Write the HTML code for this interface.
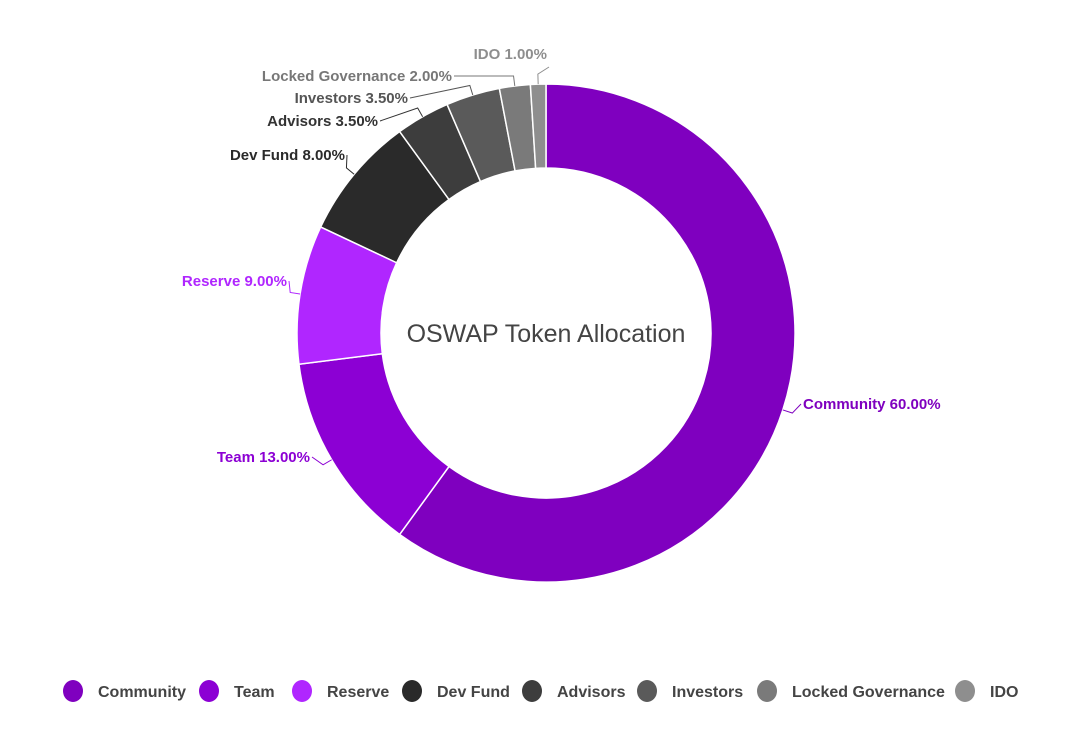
<!DOCTYPE html>
<html><head><meta charset="utf-8"><style>
html,body{margin:0;padding:0;background:#fff;}
svg{display:block;font-family:"Liberation Sans",Arial,sans-serif;}
</style></head><body>
<svg id="chart" width="1081" height="734" viewBox="0 0 1081 734"></svg>
<script>
const categories = ["Community","Team","Reserve","Dev Fund","Advisors","Investors","Locked Governance","IDO"];
const values = [60,13,9,8,3.5,3.5,2,1];
const colors = ["#7f00bf","#8c00d4","#b026ff","#2a2a2a","#3d3d3d","#5a5a5a","#7a7a7a","#8e8e8e"];
const labelColors = ["#7f00bf","#8c00d4","#b026ff","#2a2a2a","#333333","#555555","#777777","#8e8e8e"];
// label anchor layout (style, not data): [x, y, anchor]
const labelLayout = [[803,409,"start"],[310,462,"end"],[287,286,"end"],[345,160,"end"],[378,126,"end"],[408,103,"end"],[452,81,"end"],[547,59,"end"]];
const legendX = [73,209,302,412,532,647,767,965];

const NS="http://www.w3.org/2000/svg";
const svg=document.getElementById('chart');
const cx=546, cy=333, R=249, r=165;
const total=values.reduce((a,b)=>a+b,0);
function pt(rad,a){return [cx+rad*Math.sin(a), cy-rad*Math.cos(a)];}
function mk(tag,attrs){const e=document.createElementNS(NS,tag);for(const k in attrs)e.setAttribute(k,attrs[k]);return e;}

let cum=0;
values.forEach((v,i)=>{
  const a0=cum/total*2*Math.PI; cum+=v; const a1=cum/total*2*Math.PI;
  const large=(a1-a0)>Math.PI?1:0;
  const p0=pt(R,a0),p1=pt(R,a1),q1=pt(r,a1),q0=pt(r,a0);
  const d=`M${p0[0]},${p0[1]} A${R},${R} 0 ${large} 1 ${p1[0]},${p1[1]} L${q1[0]},${q1[1]} A${r},${r} 0 ${large} 0 ${q0[0]},${q0[1]} Z`;
  const path=mk('path',{d:d,fill:colors[i],stroke:'#fff','stroke-width':1.5});
  
  
  svg.appendChild(path);
  // leader line
  const am=(a0+a1)/2;
  const s=pt(R,am), e=pt(R+10,am);
  const L=labelLayout[i];
  const lx = L[2]==="start"? L[0]-2 : L[0]+2;
  const ly = L[1]+ (i===7?8:-5);
  const line=mk('polyline',{points:`${s[0]},${s[1]} ${e[0]},${e[1]} ${lx},${ly}`,fill:'none',stroke:labelColors[i],'stroke-width':1});
  
  
  svg.appendChild(line);
  const t=mk('text',{x:L[0],y:L[1],'text-anchor':L[2],'font-size':15,'font-weight':'bold',fill:labelColors[i]});
  t.textContent=categories[i]+" "+v.toFixed(2)+"%";
  
  
  svg.appendChild(t);
});

const title=mk('text',{x:cx,y:cy+9,'text-anchor':'middle','font-size':25,fill:'#444'});
title.textContent="OSWAP Token Allocation";


svg.appendChild(title);

categories.forEach((c,i)=>{
  const g=mk('g',{});
  
  
  const circ=mk('ellipse',{cx:legendX[i],cy:691,rx:10,ry:11,fill:colors[i]});
  
  
  const t=mk('text',{x:legendX[i]+25,y:697,'font-size':16,'font-weight':'bold',fill:'#444'});
  t.textContent=c;
  
  
  g.appendChild(circ);g.appendChild(t);svg.appendChild(g);
});
</script>
</body></html>
